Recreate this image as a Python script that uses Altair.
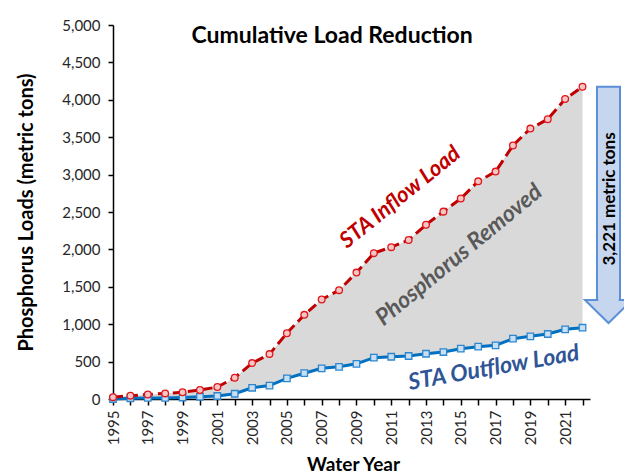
import altair as alt
import pandas as pd

# ---- data ----
years = list(range(1995, 2023))
inflow = [25, 45, 60, 75, 90, 120, 160, 285, 480, 600, 880, 1125, 1330, 1455,
          1690, 1950, 2030, 2125, 2330, 2505, 2680, 2910, 3040, 3390, 3615,
          3740, 4010, 4174]
outflow = [0, 10, 15, 15, 20, 30, 40, 70, 150, 180, 275, 345, 410, 430,
           470, 552, 565, 575, 605, 628, 673, 700, 717, 806, 838, 869, 932, 953]
x_tick_values = list(range(1995, 2023))
y_tick_values = list(range(0, 5001, 500))

chart_title = "Cumulative Load Reduction"
x_title = "Water Year"
y_title = "Phosphorus  Loads (metric tons)"
inflow_label = "STA Inflow Load"
removed_label = "Phosphorus Removed"
outflow_label = "STA Outflow Load"
arrow_label = "3,221 metric tons"

FONT = "Lato"
df = pd.DataFrame({"year": years, "inflow": inflow, "outflow": outflow})

xscale = alt.Scale(domain=[1995, 2022.43], nice=False, zero=False)
yscale = alt.Scale(domain=[0, 5000], nice=False, zero=True)

x_axis = alt.Axis(
    values=x_tick_values, format="d",
    labelExpr="datum.value % 2 == 1 ? datum.label : ''",
    labelAngle=270, labelFontSize=15, labelFont=FONT, labelColor="#262626",
    labelPadding=5, tickSize=6, tickColor="black", tickWidth=1.5,
    domainColor="black", domainWidth=1.5, grid=False,
    title=x_title, titleFont=FONT, titleFontSize=19, titleFontWeight="bold",
    titleColor="black", titleX=240, titleY=65, titleBaseline="middle",
    titleAlign="center",
)
y_axis = alt.Axis(
    values=y_tick_values, format=",d", labelFontSize=15, labelFont=FONT,
    labelColor="#262626", labelPadding=8, tickSize=5, tickColor="black",
    tickWidth=1.5, domainColor="black", domainWidth=1.5, grid=False,
    title=y_title, titleFont=FONT, titleFontSize=20, titleFontWeight="bold",
    titleColor="black", titleAngle=270, titleX=-87, titleY=187,
    titleBaseline="middle", titleAlign="center",
)


def X(field="year"):
    return alt.X(f"{field}:Q", scale=xscale, axis=x_axis)


def Y(field):
    return alt.Y(f"{field}:Q", scale=yscale, axis=y_axis)


base = alt.Chart(df)

area = base.mark_area(color="#d9d9d9", opacity=1).encode(
    x=X(), y=Y("inflow"), y2="outflow:Q")

out_line = base.mark_line(color="#0070c0", strokeWidth=3).encode(
    x=X(), y=Y("outflow"))
in_line = base.mark_line(color="#c00000", strokeWidth=3,
                         strokeDash=[10, 5]).encode(x=X(), y=Y("inflow"))

out_pts = base.mark_point(shape="square", size=42, filled=True,
                          fill="#c9dff3", stroke="#2e86cf", strokeWidth=1.3,
                          opacity=1).encode(x=X(), y=Y("outflow"))
in_pts = base.mark_point(shape="circle", size=45, filled=True,
                         fill="#f7c6c4", stroke="#e0161b", strokeWidth=1.3,
                         opacity=1).encode(x=X(), y=Y("inflow"))


def label(text, year, value, color, size, angle, style="italic", weight="bold"):
    d = pd.DataFrame({"year": [year], "v": [value], "t": [text]})
    return alt.Chart(d).mark_text(
        font=FONT, fontSize=size, fontWeight=weight, fontStyle=style,
        color=color, angle=angle, align="center", baseline="middle",
    ).encode(x=X(), y=Y("v"), text="t:N")


title_txt = label(chart_title, 2007.6, 4850, "black", 23, 0, style="normal")
in_txt = label(inflow_label, 2011.5, 2700, "#c00000", 22, 321)
rem_txt = label(removed_label, 2014.9, 1925, "#595959", 23, 320.5)
out_txt = label(outflow_label, 2016.9, 415, "#2f5597", 23, 350)

# ---- arrow showing total removed ----
arrow_top = inflow[-1]
shaft_bottom = 1324
head_center = 1170
arrow_fill = "#c6d6ee"
arrow_stroke = "#5b8fd6"

shaft_df = pd.DataFrame({"top": [arrow_top], "bottom": [shaft_bottom]})
shaft = alt.Chart(shaft_df).mark_rect(
    fill=arrow_fill, stroke=arrow_stroke, strokeWidth=2).encode(
    x=alt.value(484), x2=alt.value(507), y=Y("top"), y2="bottom:Q")

head_df = pd.DataFrame({"v": [head_center]})
head = alt.Chart(head_df).mark_point(
    shape="M -1 -0.49 L 1 -0.49 L 0 0.49 Z", size=2209, filled=True,
    fill=arrow_fill, stroke=arrow_stroke, strokeWidth=2, opacity=1,
    fillOpacity=1, strokeOpacity=1).encode(x=alt.value(495.5), y=Y("v"))

cover_df = pd.DataFrame({"a": [shaft_bottom + 40], "b": [shaft_bottom - 40]})
cover = alt.Chart(cover_df).mark_rect(fill=arrow_fill).encode(
    x=alt.value(485.3), x2=alt.value(505.7), y=Y("a"), y2="b:Q")

arr_txt_df = pd.DataFrame({"v": [2674], "t": [arrow_label]})
arrow_txt = alt.Chart(arr_txt_df).mark_text(
    font=FONT, fontSize=17, fontWeight="bold", color="black", angle=270,
    align="center", baseline="middle").encode(
    x=alt.value(497), y=Y("v"), text="t:N")

chart = alt.layer(
    area, out_line, in_line, out_pts, in_pts,
    title_txt, in_txt, rem_txt, out_txt,
    head, shaft, cover, arrow_txt,
).properties(
    width=477, height=374,
    autosize=alt.AutoSizeParams(type="none"),
    padding={"left": 105, "top": 17, "right": 34, "bottom": 76},
    background="white",
).configure_view(stroke=None)

chart.save("out.html", embed_options={"renderer": "svg", "actions": False})
